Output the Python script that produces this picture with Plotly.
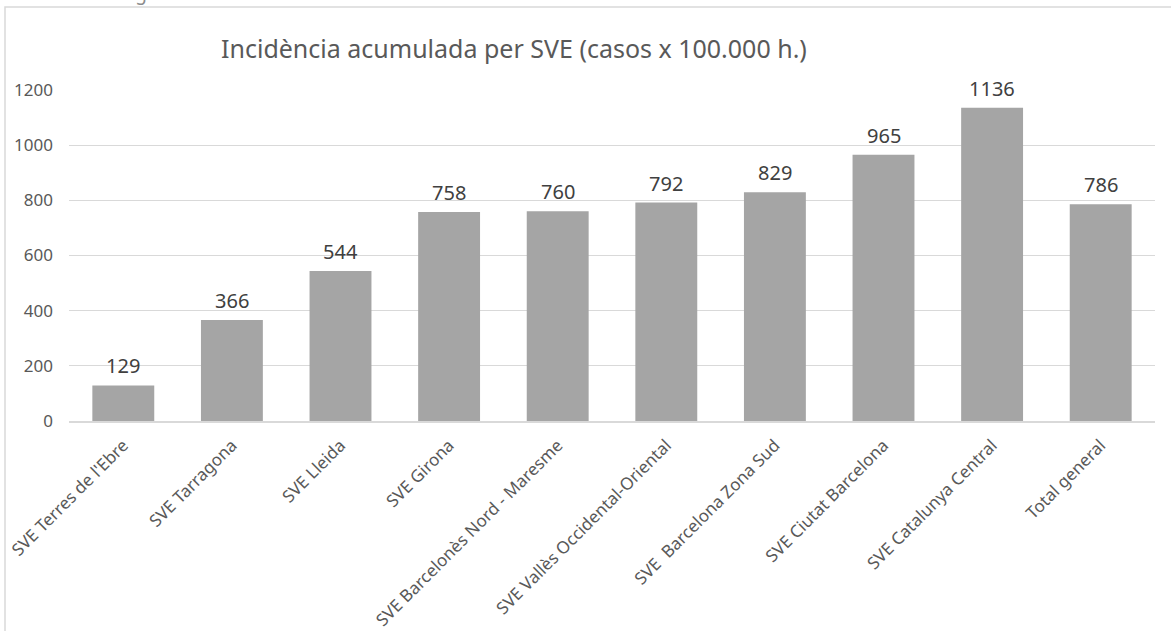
import plotly.graph_objects as go

# incidència acumulada per SVE
categories = ["SVE Terres de l'Ebre", "SVE Tarragona", "SVE Lleida", "SVE Girona",
              "SVE Barcelonès Nord - Maresme", "SVE Vallès Occidental-Oriental",
              "SVE  Barcelona Zona Sud", "SVE Ciutat Barcelona", "SVE Catalunya Central",
              "Total general"]
values = [129, 366, 544, 758, 760, 792, 829, 965, 1136, 786]
y_ticks = [0, 200, 400, 600, 800, 1000, 1200]

title_text = "Incidència acumulada per SVE (casos x 100.000 h.)"
cut_text = "d Emergències de Salut Pública"

font_name = "Noto Sans"
W, H = 1171, 631
ml, mr, mt, mb = 69, 16, 90, 210
pw, ph = W - ml - mr, H - mt - mb


def px_x(px):
    return (px - ml) / pw


def px_y(py):
    return 1 + (mt - py) / ph


fig = go.Figure()
fig.add_trace(go.Bar(x=categories, y=values, marker=dict(color="#a5a5a5", line=dict(width=0)),
                     hoverinfo="x+y"))

# data labels above the bars
for c, v in zip(categories, values):
    fig.add_annotation(x=c, y=v, text=str(v), showarrow=False, yanchor="bottom", yshift=4,
                       font=dict(family=font_name, size=20, color="#404040"))

# title + clipped line of the previous page
fig.add_annotation(x=px_x(514), y=px_y(48), xref="paper", yref="paper", text=title_text,
                   showarrow=False, xanchor="center", yanchor="middle",
                   font=dict(family=font_name, size=25, color="#595959"))
fig.add_annotation(x=px_x(70), y=px_y(8), xref="paper", yref="paper", text=cut_text,
                   showarrow=False, xanchor="left", yanchor="bottom",
                   font=dict(family=font_name, size=19, color="#8c8c8c"))

# chart frame
fig.add_shape(type="rect", xref="paper", yref="paper", x0=px_x(5), x1=px_x(1200),
              y0=px_y(700), y1=px_y(7), line=dict(color="#d9d9d9", width=1.5),
              fillcolor="rgba(0,0,0,0)", layer="below")

fig.update_layout(width=W, height=H, margin=dict(l=ml, r=mr, t=mt, b=mb),
                  plot_bgcolor="white", paper_bgcolor="white", showlegend=False,
                  bargap=0.43, font=dict(family=font_name, color="#595959"))
fig.update_xaxes(tickangle=-45, tickfont=dict(size=17, color="#595959"), showgrid=False,
                 showline=True, linecolor="#d9d9d9", linewidth=1.5, ticks="",
                 automargin=False, ticklabelstandoff=6)
fig.update_yaxes(range=[0, 1200], tickvals=y_ticks, tickfont=dict(size=17, color="#595959"),
                 showgrid=True, gridcolor="#d9d9d9", gridwidth=1, zeroline=False,
                 showline=False, ticks="", ticklabelstandoff=15, automargin=False)

fig.write_html("out.html", config={"displayModeBar": False},
               post_script="document.body.style.margin='0';")
